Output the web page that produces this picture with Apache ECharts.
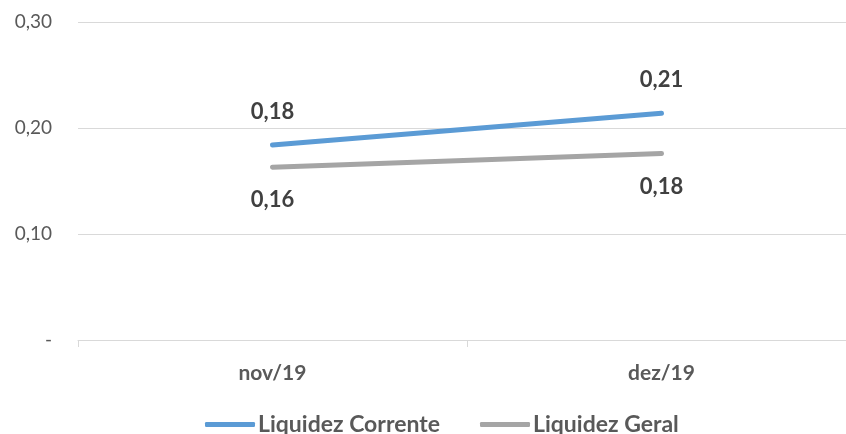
<!DOCTYPE html>
<html><head><meta charset="utf-8">
<script src="https://cdn.jsdelivr.net/npm/echarts@6/dist/echarts.min.js"></script>
<style>html,body{margin:0;padding:0;background:#fff;overflow:hidden}#c{width:862px;height:434px}</style>
</head><body><div id="c"></div>
<script>
const categories = ['nov/19', 'dez/19'];
const liquidezCorrente = [0.184, 0.214];
const liquidezGeral = [0.163, 0.176];
const seriesNames = ['Liquidez Corrente', 'Liquidez Geral'];
const fmt = v => v === 0 ? '-' : v.toFixed(2).replace('.', ',');
const FONT = 'Lato';
const chart = echarts.init(document.getElementById('c'));
chart.setOption({
  animation: false,
  grid: {left: 78, right: 6, top: 22, bottom: 94},
  legend: {
    top: 408, left: 200, itemWidth: 50, itemHeight: 5, itemGap: 40,
    icon: 'roundRect',
    textStyle: {fontFamily: FONT, fontSize: 23, fontWeight: 'bold', color: '#595959', padding: [0,0,0,-2]},
    data: seriesNames
  },
  xAxis: {
    type: 'category', data: categories, boundaryGap: true,
    axisLine: {lineStyle: {color: '#d9d9d9', width: 1}},
    axisTick: {show: true, length: 7, lineStyle: {color: '#d9d9d9'}},
    axisLabel: {fontFamily: FONT, fontSize: 21, fontWeight: 'bold', color: '#595959', margin: 23}
  },
  yAxis: {
    type: 'value', min: 0, max: 0.3, interval: 0.1,
    axisLine: {show: false}, axisTick: {show: false},
    splitLine: {lineStyle: {color: '#d9d9d9', width: 1}},
    axisLabel: {fontFamily: FONT, fontSize: 19, color: '#595959', margin: 26, formatter: fmt}
  },
  series: [
    {name: seriesNames[0], type: 'line', data: liquidezCorrente, symbol: 'circle', symbolSize: 0,
     lineStyle: {width: 5, color: '#5B9BD5', cap: 'round'}, itemStyle: {color: '#5B9BD5'},
     label: {show: true, position: 'top', distance: 22, formatter: p => fmt(p.value),
       fontFamily: FONT, fontSize: 22, fontWeight: 'bold', color: '#404040'}},
    {name: seriesNames[1], type: 'line', data: liquidezGeral, symbol: 'circle', symbolSize: 0,
     lineStyle: {width: 5, color: '#A5A5A5', cap: 'round'}, itemStyle: {color: '#A5A5A5'},
     label: {show: true, position: 'bottom', distance: 22, formatter: p => fmt(p.value),
       fontFamily: FONT, fontSize: 22, fontWeight: 'bold', color: '#404040'}}
  ]
});
</script></body></html>
